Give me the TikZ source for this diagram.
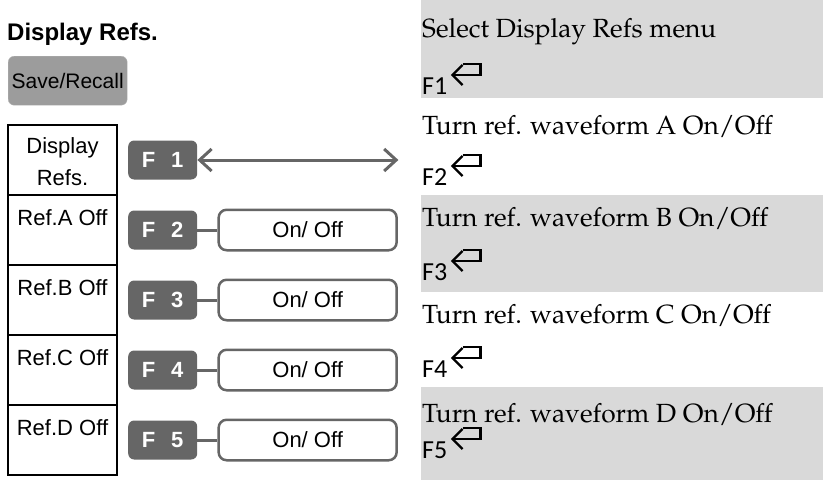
\documentclass[tikz,border=0pt]{standalone}
\usepackage[T1]{fontenc}
\usepackage{fontspec}
\setmainfont{Liberation Sans}
\newfontfamily\keyfont{Carlito}
\newcommand{\descfont}{\fontencoding{T1}\fontfamily{ppl}\fontsize{26.3}{30}\selectfont}
\usepackage{xcolor}
\usetikzlibrary{positioning,arrows.meta}

\definecolor{keygray}{HTML}{666666}
\definecolor{btngray}{HTML}{9C9C9C}
\definecolor{bandgray}{HTML}{D9D9D9}

\begin{document}
\begin{tikzpicture}[
    x=1pt, y=-1pt,
    font=\fontsize{22}{26}\selectfont,
    refcell/.style={
        draw,
        line width=1.3pt,
        outer sep=0pt,
        minimum width=109pt,
        minimum height=70pt,
        inner sep=0pt,
        text height=30pt,
        text depth=40pt,
        align=center
    },
    fkey/.style={
        fill=keygray,
        rounded corners=6pt,
        minimum width=69pt,
        minimum height=39pt,
        inner sep=0pt,
        text=white,
        font=\bfseries\fontsize{22}{26}\selectfont
    },
    onoff/.style={
        draw=keygray,
        line width=2.5pt,
        rounded corners=8pt,
        fill=white,
        minimum width=178pt,
        minimum height=40.5pt,
        inner sep=0pt
    },
    desc/.style={anchor=base west, inner sep=0pt, font=\descfont},
    keytxt/.style={anchor=base west, inner sep=0pt, font=\keyfont\fontsize{26}{30}\selectfont},
    link/.style={draw=keygray, line width=3pt},
    arrow/.style={{Straight Barb[length=12pt,width=22pt]}-{Straight Barb[length=12pt,width=22pt]}, draw=keygray, line width=3pt},
    retsym/.pic={
        \draw[line width=2.3pt] (15,-30) -- (33,-30) -- (33,-19) -- (5,-19);
        \draw[line width=2.3pt] (15,-29) -- (5,-19) -- (15,-9);
    }
]
\useasboundingbox (0,0) rectangle (823,480);

% left side: menu
\node[anchor=base west, inner sep=0pt, font=\bfseries\fontsize{24}{28}\selectfont] (title) at (7,40) {Display Refs.};
\node[fill=btngray, draw=btngray!75!white, rounded corners=6pt, anchor=north west,
      minimum width=119pt, minimum height=49pt, inner sep=0pt,
      font=\fontsize{21}{25}\selectfont] (save) at (8,56) {Save/Recall};

\node[refcell, anchor=north, text height=60pt, text depth=10pt,
      font=\fontsize{22}{32}\selectfont] (cell0) at (62.5,125) {Display\\Refs.};
\node[refcell, below=0pt of cell0] (cell1) {Ref.A Off};
\node[refcell, below=0pt of cell1] (cell2) {Ref.B Off};
\node[refcell, below=0pt of cell2] (cell3) {Ref.C Off};
\node[refcell, below=0pt of cell3] (cell4) {Ref.D Off};

\node[fkey, right=11pt of cell0] (f1) {F\ \ \,1};
\node[fkey, right=11pt of cell1] (f2) {F\ \ \,2};
\node[fkey, right=11pt of cell2] (f3) {F\ \ \,3};
\node[fkey, right=11pt of cell3] (f4) {F\ \ \,4};
\node[fkey, right=11pt of cell4] (f5) {F\ \ \,5};

\coordinate[right=201pt of f1] (f1end);
\draw[arrow] (f1) -- (f1end);

\node[onoff, right=20pt of f2] (o2) {On/ Off};
\node[onoff, right=20pt of f3] (o3) {On/ Off};
\node[onoff, right=20pt of f4] (o4) {On/ Off};
\node[onoff, right=20pt of f5] (o5) {On/ Off};

\draw[link] (f2) -- (o2);
\draw[link] (f3) -- (o3);
\draw[link] (f4) -- (o4);
\draw[link] (f5) -- (o5);

% right side: descriptions
\fill[bandgray] (421,0) rectangle (823,98);
\fill[bandgray] (421,195) rectangle (823,292);
\fill[bandgray] (421,387) rectangle (823,480);

\node[desc] (d1) at (422,37) {Select Display Refs menu};
\node[keytxt] (k1) at (422,94) {F1};
\pic at (k1.base east) {retsym};

\node[desc] (d2) at (422,134) {Turn ref. waveform A On/Off};
\node[keytxt] (k2) at (422,185) {F2};
\pic at (k2.base east) {retsym};

\node[desc] (d3) at (422,226) {Turn ref. waveform B On/Off};
\node[keytxt] (k3) at (422,280) {F3};
\pic at (k3.base east) {retsym};

\node[desc] (d4) at (422,323) {Turn ref. waveform C On/Off};
\node[keytxt] (k4) at (422,377) {F4};
\pic at (k4.base east) {retsym};

\node[desc] (d5) at (422,422) {Turn ref. waveform D On/Off};
\node[keytxt] (k5) at (422,458) {F5};
\pic at (k5.base east) {retsym};
\end{tikzpicture}
\end{document}
